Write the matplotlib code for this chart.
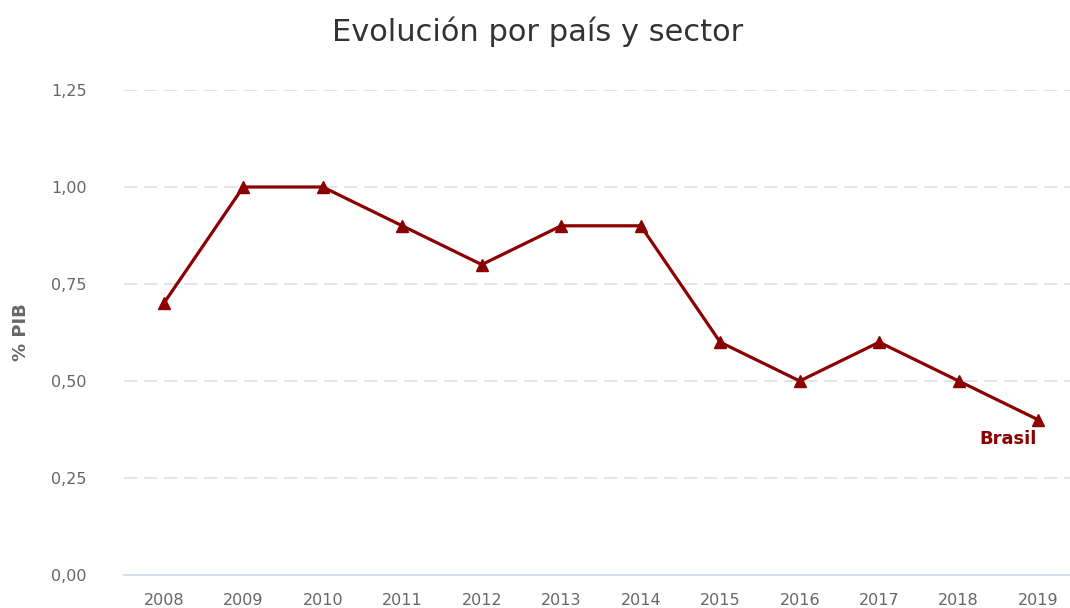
import matplotlib.pyplot as plt
from matplotlib.ticker import FuncFormatter

# datos
anios = ["2008", "2009", "2010", "2011", "2012", "2013", "2014",
         "2015", "2016", "2017", "2018", "2019"]
brasil = [0.7, 1.0, 1.0, 0.9, 0.8, 0.9, 0.9, 0.6, 0.5, 0.6, 0.5, 0.4]
y_ticks = [0, 0.25, 0.5, 0.75, 1.0, 1.25]

plt.rcParams["font.family"] = ["DejaVu Sans"]

fig = plt.figure(figsize=(10.7, 6.08), dpi=100)
ax = fig.add_axes([124 / 1070, 1 - 575 / 608, (1070 - 124) / 1070, (575 - 90) / 608])

x = range(len(anios))
ax.plot(x, brasil, color="#8b0000", lw=2.3, marker="^", markersize=9, zorder=3)
ax.annotate("Brasil", (x[-1], brasil[-1]), xytext=(-22, -14), textcoords="offset points",
            ha="center", va="center", color="#8b0000", fontsize=13, fontweight="bold")

ax.set_xlim(-0.5, 11.4)
ax.set_ylim(0, 1.25)
ax.set_xticks(list(x))
ax.set_xticklabels(anios)
ax.set_yticks(y_ticks)
ax.yaxis.set_major_formatter(FuncFormatter(lambda v, p: f"{v:.2f}".replace(".", ",")))

for v in y_ticks[1:]:
    ax.axhline(v, color="#e0e0e0", lw=1.2, linestyle=(0, (8, 4)), zorder=1)

for s in ["top", "right", "left"]:
    ax.spines[s].set_visible(False)
ax.spines["bottom"].set_color("#ccd6eb")
ax.spines["bottom"].set_linewidth(1.2)
ax.tick_params(axis="both", length=0, labelsize=11.5, labelcolor="#666666")
ax.tick_params(axis="x", pad=13)
ax.tick_params(axis="y", pad=27)

ax.set_ylabel("% PIB", fontsize=13, fontweight="bold", color="#666666", labelpad=15)
fig.text(538 / 1070, 1 - 32 / 608, "Evolución por país y sector", ha="center", va="center",
         fontsize=22, color="#333333")

fig.savefig("out.png", dpi=100)
